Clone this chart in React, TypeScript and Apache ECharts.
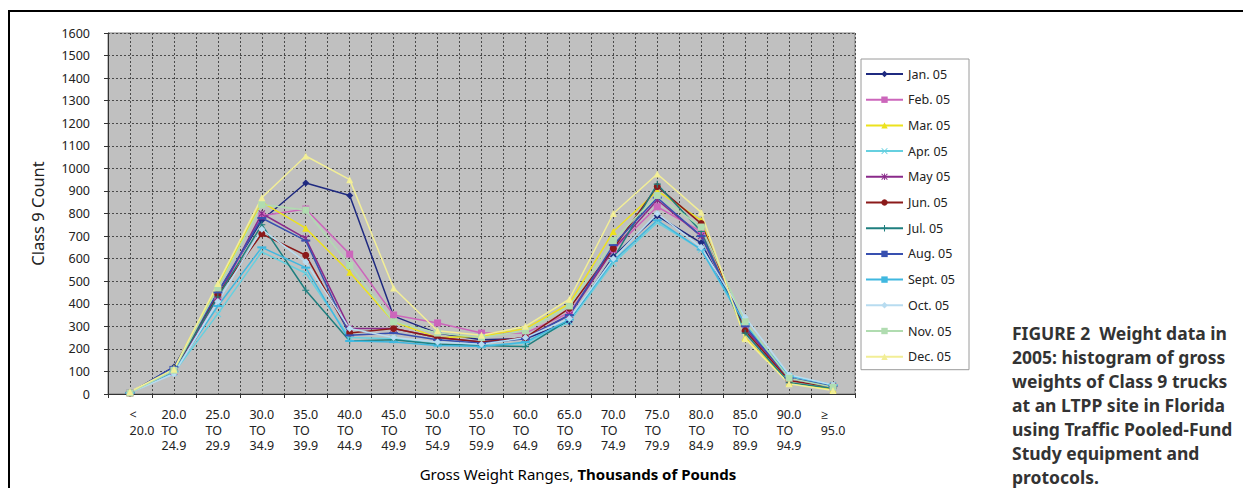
import React, { useEffect, useRef } from "react";
import * as echarts from "echarts";

const categories = [
  "<\n20.0", "20.0\nTO\n24.9", "25.0\nTO\n29.9", "30.0\nTO\n34.9", "35.0\nTO\n39.9",
  "40.0\nTO\n44.9", "45.0\nTO\n49.9", "50.0\nTO\n54.9", "55.0\nTO\n59.9", "60.0\nTO\n64.9",
  "65.0\nTO\n69.9", "70.0\nTO\n74.9", "75.0\nTO\n79.9", "80.0\nTO\n84.9", "85.0\nTO\n89.9",
  "90.0\nTO\n94.9", "≥\n95.0",
];

const seriesNames = [
  "Jan. 05", "Feb. 05", "Mar. 05", "Apr. 05", "May 05", "Jun. 05",
  "Jul. 05", "Aug. 05", "Sept. 05", "Oct. 05", "Nov. 05", "Dec. 05",
];

const jan = [5, 120, 450, 770, 935, 880, 345, 270, 240, 245, 320, 610, 790, 670, 300, 70, 35];
const feb = [5, 100, 430, 790, 820, 620, 350, 315, 270, 270, 360, 640, 830, 720, 290, 70, 30];
const mar = [5, 115, 480, 850, 735, 540, 320, 250, 255, 290, 400, 720, 900, 770, 250, 50, 20];
const apr = [5, 95, 355, 630, 535, 250, 245, 220, 215, 225, 320, 580, 760, 640, 300, 80, 40];
const may = [5, 100, 430, 800, 690, 290, 290, 250, 230, 250, 350, 640, 860, 700, 290, 70, 35];
const jun = [5, 105, 440, 710, 615, 270, 290, 250, 230, 250, 380, 645, 920, 755, 280, 60, 30];
const jul = [5, 110, 430, 750, 460, 235, 240, 220, 215, 210, 330, 600, 930, 720, 270, 50, 25];
const aug = [5, 120, 450, 780, 680, 260, 270, 240, 225, 245, 350, 660, 870, 700, 300, 70, 35];
const sept = [5, 100, 390, 650, 560, 235, 230, 215, 210, 230, 330, 590, 770, 640, 310, 80, 40];
const oct = [5, 90, 410, 730, 585, 290, 250, 230, 220, 250, 335, 600, 800, 650, 340, 85, 40];
const nov = [5, 105, 470, 840, 815, 570, 320, 270, 250, 280, 390, 680, 880, 740, 320, 70, 30];
const dec = [10, 110, 490, 870, 1055, 950, 470, 280, 260, 300, 420, 800, 975, 805, 245, 45, 15];

const seriesValues = [jan, feb, mar, apr, may, jun, jul, aug, sept, oct, nov, dec];

const colors = [
  "#1f2a80", "#cc66bb", "#ece21e", "#66d0e0", "#8a2a8a", "#8b1a1a",
  "#1f7f7f", "#3850b0", "#40b8e0", "#b8dcf0", "#b0dcb0", "#f2ee96",
];

const X_PATH = "path://M0,1 L1,0 L5,4 L9,0 L10,1 L6,5 L10,9 L9,10 L5,6 L1,10 L0,9 L4,5 Z";
const PLUS_PATH = "path://M4.2,0 H5.8 V4.2 H10 V5.8 H5.8 V10 H4.2 V5.8 H0 V4.2 H4.2 Z";
const STAR_PATH =
  "path://M0,1 L1,0 L5,4 L9,0 L10,1 L6,5 L10,9 L9,10 L5,6 L1,10 L0,9 L4,5 Z M4.3,0 H5.7 V10 H4.3 Z";

const symbols = [
  "diamond", "rect", "triangle", X_PATH, STAR_PATH, "circle",
  PLUS_PATH, "rect", "rect", "diamond", "rect", "triangle",
];
const symbolSizes: (number | number[])[] = [7, 7, 7, 7, 7, 7, 7, [9, 2], [9, 2], 7, 7, 7];

const yAxisName = "Class 9 Count";
const xAxisNameA = "Gross Weight Ranges, ";
const xAxisNameB = "Thousands of Pounds";
const captionLines = [
  "FIGURE 2  Weight data in",
  "2005: histogram of gross",
  "weights of Class 9 trucks",
  "at an LTPP site in Florida",
  "using Traffic Pooled-Fund",
  "Study equipment and",
  "protocols.",
];

const FONT = "'Noto Sans', 'Open Sans', sans-serif";

export default function App() {
  const ref = useRef<HTMLDivElement>(null);

  useEffect(() => {
    if (!ref.current) return;
    const chart = echarts.init(ref.current, undefined, { renderer: "svg" });

    const series = seriesNames.map((name, i) => ({
      name,
      type: "line",
      xAxisIndex: 0,
      yAxisIndex: 0,
      data: seriesValues[i],
      symbol: symbols[i],
      symbolSize: symbolSizes[i],
      showAllSymbol: true,
      lineStyle: { color: colors[i], width: 1.5 },
      itemStyle: { color: colors[i] },
      emphasis: { disabled: true },
    }));

    const labelStyle = {
      align: "left",
      fontSize: 12.5,
      lineHeight: 15.5,
      color: "#222",
      fontFamily: FONT,
    };

    chart.setOption({
      animation: false,
      textStyle: { fontFamily: FONT },
      grid: {
        left: 108,
        top: 33,
        width: 747,
        height: 361,
        show: true,
        backgroundColor: "#c0c0c0",
        borderColor: "#808080",
        borderWidth: 1,
      },
      legend: {
        orient: "vertical",
        left: 861,
        top: 59,
        padding: [8, 14, 6, 4],
        itemWidth: 37,
        itemHeight: 8,
        itemGap: 11.7,
        backgroundColor: "#ffffff",
        borderColor: "#9a9a9a",
        borderWidth: 1,
        textStyle: { fontSize: 12.5, color: "#222", lineHeight: 14, fontFamily: FONT },
        data: seriesNames,
      },
      xAxis: [
        {
          type: "category",
          data: categories,
          boundaryGap: true,
          axisLine: { lineStyle: { color: "#333", width: 1 } },
          axisTick: { show: true, inside: false, length: 4, lineStyle: { color: "#333" } },
          splitLine: { show: false },
          axisLabel: {
            interval: 0,
            margin: 13,
            formatter: (v: string, idx: number) => {
              const key = idx === 0 ? "f" : "a";
              return v
                .split("\n")
                .map((s) => `{${key}|${s}}`)
                .join("\n");
            },
            rich: {
              a: labelStyle,
              f: { ...labelStyle, padding: [0, 0, 0, 24] },
            },
          },
        },
        {
          type: "value",
          min: 0,
          max: 34,
          interval: 1,
          position: "bottom",
          axisLine: { show: false },
          axisTick: { show: false },
          axisLabel: { show: false },
          splitLine: { show: true, lineStyle: { color: "#4a4a4a", type: [2, 2], width: 1 } },
        },
      ],
      yAxis: {
        type: "value",
        min: 0,
        max: 1600,
        interval: 100,
        name: yAxisName,
        nameLocation: "middle",
        nameGap: 62,
        nameTextStyle: { fontSize: 16.5, color: "#222", fontFamily: FONT },
        axisLine: { show: true, lineStyle: { color: "#333", width: 1 } },
        axisTick: { show: true, inside: false, length: 4, lineStyle: { color: "#333" } },
        axisLabel: {
          margin: 18,
          fontSize: 12.5,
          color: "#222",
          fontFamily: FONT,
          formatter: (v: number) => String(v),
        },
        splitLine: { show: true, lineStyle: { color: "#4a4a4a", type: [2, 2], width: 1 } },
      },
      graphic: [
        {
          type: "line",
          shape: { x1: 8, y1: 11, x2: 1243, y2: 11 },
          style: { stroke: "#000", lineWidth: 2 },
        },
        {
          type: "line",
          shape: { x1: 9, y1: 10, x2: 9, y2: 488 },
          style: { stroke: "#000", lineWidth: 2 },
        },
        {
          type: "text",
          x: 578,
          y: 474,
          style: {
            text: `{n|${xAxisNameA}}{b|${xAxisNameB}}`,
            align: "center",
            verticalAlign: "middle",
            rich: {
              n: { fontSize: 15, color: "#222", fontFamily: FONT },
              b: { fontSize: 15, color: "#222", fontWeight: "bold", fontFamily: FONT },
            },
          },
        },
        {
          type: "text",
          x: 1012,
          y: 321,
          style: {
            text: captionLines.join("\n"),
            fontSize: 17.5,
            lineHeight: 24,
            fontWeight: "bold",
            fill: "#333",
            fontFamily: FONT,
            align: "left",
            verticalAlign: "top",
          },
        },
      ],
      series,
    });

    return () => chart.dispose();
  }, []);

  return (
    <div
      ref={ref}
      style={{ position: "fixed", left: 0, top: 0, width: 1243, height: 488, background: "#fff" }}
    />
  );
}
